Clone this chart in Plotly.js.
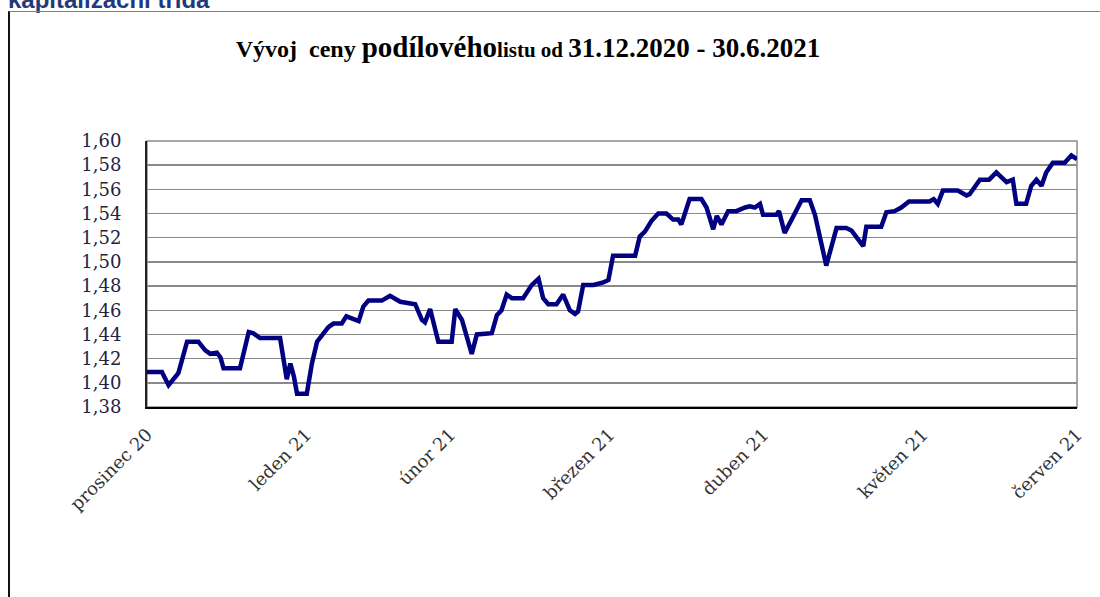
<!DOCTYPE html>
<html>
<head>
<meta charset="utf-8">
<script src="https://cdn.plot.ly/plotly-3.0.1.min.js"></script>
<style>
  body { margin: 0; background: #fff; overflow: hidden; }
  #hlavicka { position: absolute; left: 8px; top: -14px; font: bold 24px "Liberation Sans", Arial, sans-serif; color: #1f3a7a; white-space: nowrap; }
  #ramecek { position: absolute; left: 8px; top: 11px; width: 1092px; height: 586px; border-left: 2px solid #111; border-top: 1px solid #808080; }
  #plot { position: absolute; left: 0; top: 0; width: 1100px; height: 597px; }
</style>
</head>
<body>
<div id="hlavicka">kapitalizační třída</div>
<div id="ramecek"></div>
<div id="plot"></div>
<script>
// dny od 31.12.2020 a cena podílového listu
var den = [0, 2.9, 4.2, 5.2, 6.1, 7.8, 10.0, 11.3, 12.3, 13.6, 14.3, 14.9, 18.1, 19.8, 20.7, 22.0, 25.9, 27.2, 27.9, 28.6,
  29.2, 31.1, 32.1, 33.1, 34.0, 35.3, 36.3, 37.9, 38.8, 39.9, 41.2, 42.1, 43.1, 45.7, 47.3, 49.3, 52.2, 53.5, 54.1, 55.1,
  56.7, 59.3, 60.0, 61.3, 63.2, 64.2, 67.1, 68.1, 69.0, 70.0, 71.0, 73.2, 74.9, 76.2, 77.1, 78.1, 79.7, 81.0, 82.3, 83.3,
  83.9, 84.9, 86.9, 88.8, 89.8, 90.7, 95.0, 95.9, 96.9, 98.2, 99.5, 101.1, 102.4, 103.4, 104.0, 105.6, 107.9, 108.9, 110.2, 110.9,
  111.8, 113.1, 114.7, 116.4, 117.3, 118.3, 119.3, 119.9, 122.5, 123.0, 124.1, 125.7, 127.4, 129.0, 130.0, 132.2, 133.2, 134.2, 136.1, 137.1,
  139.4, 140.0, 142.9, 143.9, 145.5, 146.8, 148.3, 152.3, 153.1, 153.9, 154.9, 157.8, 159.5, 160.1, 162.1, 163.9, 165.3, 167.3, 168.5, 169.2,
  171.1, 172.1, 173.1, 174.1, 175.0, 176.3, 178.6, 179.9, 181];
var cena = [1.409, 1.409, 1.398, 1.403, 1.408, 1.434, 1.434, 1.427, 1.424, 1.425, 1.421, 1.412, 1.412, 1.442, 1.441, 1.437, 1.437, 1.403, 1.416, 1.405,
  1.391, 1.391, 1.416, 1.434, 1.439, 1.446, 1.449, 1.449, 1.455, 1.453, 1.451, 1.463, 1.468, 1.468, 1.472, 1.467, 1.465, 1.452, 1.450, 1.461,
  1.434, 1.434, 1.461, 1.452, 1.424, 1.440, 1.441, 1.456, 1.460, 1.473, 1.470, 1.470, 1.481, 1.486, 1.470, 1.465, 1.465, 1.473, 1.460, 1.457,
  1.459, 1.481, 1.481, 1.483, 1.485, 1.505, 1.505, 1.521, 1.525, 1.534, 1.540, 1.540, 1.535, 1.535, 1.531, 1.552, 1.552, 1.545, 1.527, 1.538,
  1.531, 1.542, 1.542, 1.545, 1.546, 1.545, 1.548, 1.539, 1.539, 1.542, 1.524, 1.537, 1.551, 1.551, 1.539, 1.497, 1.511, 1.528, 1.528, 1.526,
  1.513, 1.529, 1.529, 1.541, 1.542, 1.545, 1.550, 1.550, 1.552, 1.548, 1.559, 1.559, 1.555, 1.556, 1.568, 1.568, 1.574, 1.566, 1.568, 1.548,
  1.548, 1.563, 1.568, 1.563, 1.574, 1.582, 1.582, 1.588, 1.585];

// popisky měsíců (konec měsíce)
var mesicDen = [0, 31, 59, 90, 120, 151, 181];
var mesicPopisky = ["prosinec 20", "leden 21", "únor 21", "březen 21", "duben 21", "květen 21", "červen 21"];

var trace = {
  x: den,
  y: cena,
  type: "scatter",
  mode: "lines",
  line: {color: "#000080", width: 4.5},
  hoverinfo: "y"
};

var layout = {
  width: 1100,
  height: 597,
  margin: {l: 147, r: 23, t: 141, b: 190},
  paper_bgcolor: "rgba(0,0,0,0)",
  plot_bgcolor: "#fff",
  separators: ", ",
  showlegend: false,
  title: {
    text: "<span style='font-size:24px'>Vývoj\u00a0 ceny </span><span style='font-size:29px'>podílového</span><span style='font-size:21px'>listu od </span><span style='font-size:27px'>31.12.2020 - 30.6.2021</span>",
    font: {family: "Liberation Serif, Times New Roman, serif", color: "#000", weight: "bold"},
    xref: "container", x: 0.48, xanchor: "center",
    yref: "container", y: 0.915, yanchor: "middle"
  },
  xaxis: {
    range: [0, 181],
    tickmode: "array",
    tickvals: mesicDen,
    ticktext: mesicPopisky,
    tickangle: -45,
    ticks: "",
    ticklabelstandoff: 8,
    showgrid: false,
    zeroline: false,
    showline: true,
    linecolor: "#000",
    linewidth: 2,
    tickfont: {family: "DejaVu Serif, serif", size: 18, color: "#333"}
  },
  yaxis: {
    range: [1.38, 1.60],
    dtick: 0.02,
    tick0: 1.38,
    tickformat: ".2f",
    ticks: "",
    ticklabelstandoff: 20,
    showgrid: true,
    gridcolor: "#8a8a8a",
    gridwidth: 1.5,
    zeroline: false,
    showline: true,
    linecolor: "#222",
    linewidth: 2,
    tickfont: {family: "DejaVu Serif, serif", size: 18, color: "#23233f"}
  },
  shapes: [{
    type: "rect", xref: "paper", yref: "paper", x0: 0, x1: 1, y0: 0, y1: 1,
    line: {color: "#8a8a8a", width: 1.5}, layer: "below"
  }]
};

Plotly.newPlot("plot", [trace], layout, {displayModeBar: false, staticPlot: true});
</script>
</body>
</html>
